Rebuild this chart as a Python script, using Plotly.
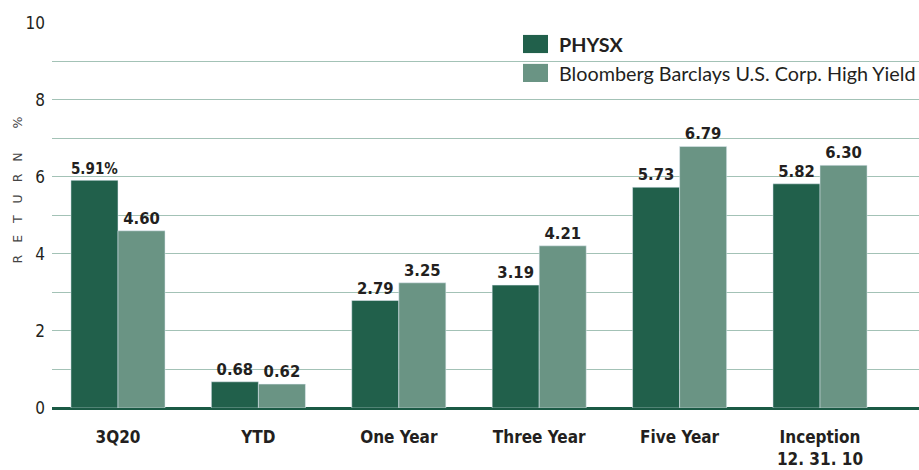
import plotly.graph_objects as go

categories = ["3Q20", "YTD", "One Year", "Three Year", "Five Year", "Inception<br>12. 31. 10"]
physx = [5.91, 0.68, 2.79, 3.19, 5.73, 5.82]
bench = [4.60, 0.62, 3.25, 4.21, 6.79, 6.30]
physx_labels = ["5.91%", "0.68", "2.79", "3.19", "5.73", "5.82"]
bench_labels = ["4.60", "0.62", "3.25", "4.21", "6.79", "6.30"]
series_names = ["PHYSX", "Bloomberg Barclays U.S. Corp. High Yield"]
y_ticks = [0, 2, 4, 6, 8, 10]

DARK = "#21604b"
LIGHT = "#6a9484"
GRID = "#a3c2b6"
NARROW = "DejaVu Sans Condensed"

fig = go.Figure()
fig.add_trace(go.Bar(x=categories, y=physx, name=series_names[0], marker_color=DARK,
                     text=physx_labels, textposition="outside", cliponaxis=False,
                     textfont=dict(family=NARROW, size=16.5, color="#231f20", weight="bold")))
fig.add_trace(go.Bar(x=categories, y=bench, name=series_names[1], marker_color=LIGHT,
                     text=bench_labels, textposition="outside", cliponaxis=False,
                     textfont=dict(family=NARROW, size=16.5, color="#231f20", weight="bold")))

fig.update_layout(
    width=919, height=470,
    margin=dict(l=52, r=0, t=22, b=62),
    paper_bgcolor="white", plot_bgcolor="white",
    barmode="group", bargap=0.33, bargroupgap=0,
    showlegend=False,
    xaxis=dict(range=[-0.47, 5.705], showgrid=False, ticks="", automargin=False,
               tickfont=dict(family=NARROW, size=17, color="#231f20", weight="bold"),
               ticklabelstandoff=17, showline=False, zeroline=False),
    yaxis=dict(range=[0, 10.02], tickvals=y_ticks, showgrid=True, gridcolor=GRID, gridwidth=1.3,
               automargin=False,
               minor=dict(dtick=1, showgrid=True, gridcolor=GRID, gridwidth=1.3),
               tickfont=dict(family=NARROW, size=17, color="#231f20"),
               ticklabelstandoff=6,
               zeroline=True, zerolinecolor="#1b5a45", zerolinewidth=3),
)

# y-axis title
fig.add_annotation(text="R   E   T   U   R   N      %", xref="paper", yref="paper",
                   x=-44 / 867, y=0.565, xanchor="left", yanchor="middle", textangle=-90,
                   showarrow=False, font=dict(family="DejaVu Sans, sans-serif", size=12.5, color="#444444"))

# legend (custom swatches)
legend_rows = [(0.943, DARK, "<b>" + series_names[0] + "</b>"), (0.868, LIGHT, series_names[1])]
for yy, col, label in legend_rows:
    fig.add_shape(type="rect", xref="paper", yref="paper",
                  x0=(523 - 52) / 867, x1=(548 - 52) / 867, y0=yy - 0.0235, y1=yy + 0.0235,
                  fillcolor=col, line_width=0)
    fig.add_annotation(text=label, xref="paper", yref="paper", x=(557 - 52) / 867, y=yy,
                       xanchor="left", yanchor="middle", showarrow=False,
                       font=dict(family="Lato, Open Sans, sans-serif", size=19.8, color="#231f20"))

fig.write_html("out.html", config={"displayModeBar": False},
               post_script="document.body.style.margin='0';document.body.style.overflow='hidden';")
